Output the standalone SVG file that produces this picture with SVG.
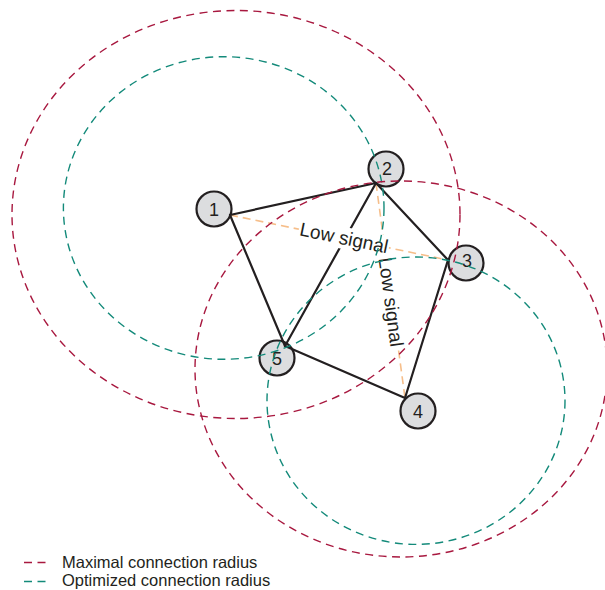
<svg xmlns="http://www.w3.org/2000/svg" width="605" height="590" viewBox="0 0 605 590">
<style>
.node circle{fill:#dcdddf;stroke:#231f20;stroke-width:2.2}
.node text{font-family:"Liberation Sans",Arial,sans-serif;font-size:18px;fill:#231f20;text-anchor:middle;dominant-baseline:central}
.edge{stroke:#231f20;stroke-width:2.2;fill:none;stroke-linecap:round}
.weak{stroke:#f6be8a;stroke-width:1.6;fill:none;stroke-dasharray:8 5}
.lbl{font-family:"Liberation Sans",Arial,sans-serif;font-size:19px;fill:#231f20;text-anchor:middle;dominant-baseline:central}
.max{stroke:#a8183f;stroke-width:1.4;fill:none;stroke-dasharray:8 5.5}
.opt{stroke:#138a7a;stroke-width:1.4;fill:none;stroke-dasharray:8 5.5}
.leg{font-family:"Liberation Sans",Arial,sans-serif;font-size:16.5px;fill:#231f20}
</style>
<g id="node1" class="node"><circle cx="214" cy="209" r="17.5"/><text x="214" y="210">1</text></g>
<g id="node2" class="node"><circle cx="386" cy="169" r="17.5"/><text x="387" y="169">2</text></g>
<g id="node3" class="node"><circle cx="466" cy="263" r="17.5"/><text x="467" y="261">3</text></g>
<g id="node4" class="node"><circle cx="418" cy="411" r="17.5"/><text x="418" y="412">4</text></g>
<g id="node5" class="node"><circle cx="277" cy="358" r="17.5"/><text x="277" y="359">5</text></g>
<g id="connectors">
<line class="weak" x1="230" y1="215" x2="448" y2="260"/>
<line class="weak" x1="376" y1="183" x2="405" y2="398"/>
<line class="edge" x1="230" y1="215" x2="376" y2="183"/>
<line class="edge" x1="230" y1="215" x2="285" y2="346"/>
<line class="edge" x1="376" y1="183" x2="285" y2="346"/>
<line class="edge" x1="376" y1="183" x2="448" y2="260"/>
<line class="edge" x1="448" y1="260" x2="405" y2="398"/>
<line class="edge" x1="285" y1="346" x2="405" y2="398"/>
<g transform="rotate(11.7 344 238)"><rect x="298" y="227" width="92" height="22" fill="#fff"/><text class="lbl" x="344" y="238">Low signal</text></g>
<g transform="rotate(82.3 391 302)"><rect x="344" y="292" width="94" height="19" fill="#fff"/><text class="lbl" x="391" y="302">Low signal</text></g>
</g>
<g id="radii">
<ellipse class="max" cx="236" cy="214.5" rx="224" ry="204"/>
<ellipse class="opt" cx="223.7" cy="208" rx="160.3" ry="151.3"/>
<ellipse class="max" cx="401" cy="369" rx="206" ry="188"/>
<ellipse class="opt" cx="416" cy="400.7" rx="149" ry="143.7"/>
</g>
<g id="legend">
<line class="max" x1="24" y1="562.5" x2="50" y2="562.5" stroke-dasharray="9 6"/>
<line class="opt" x1="24" y1="581.5" x2="50" y2="581.5" stroke-dasharray="9 6"/>
<text class="leg" x="62" y="568">Maximal connection radius</text>
<text class="leg" x="62" y="586">Optimized connection radius</text>
</g>
</svg>
